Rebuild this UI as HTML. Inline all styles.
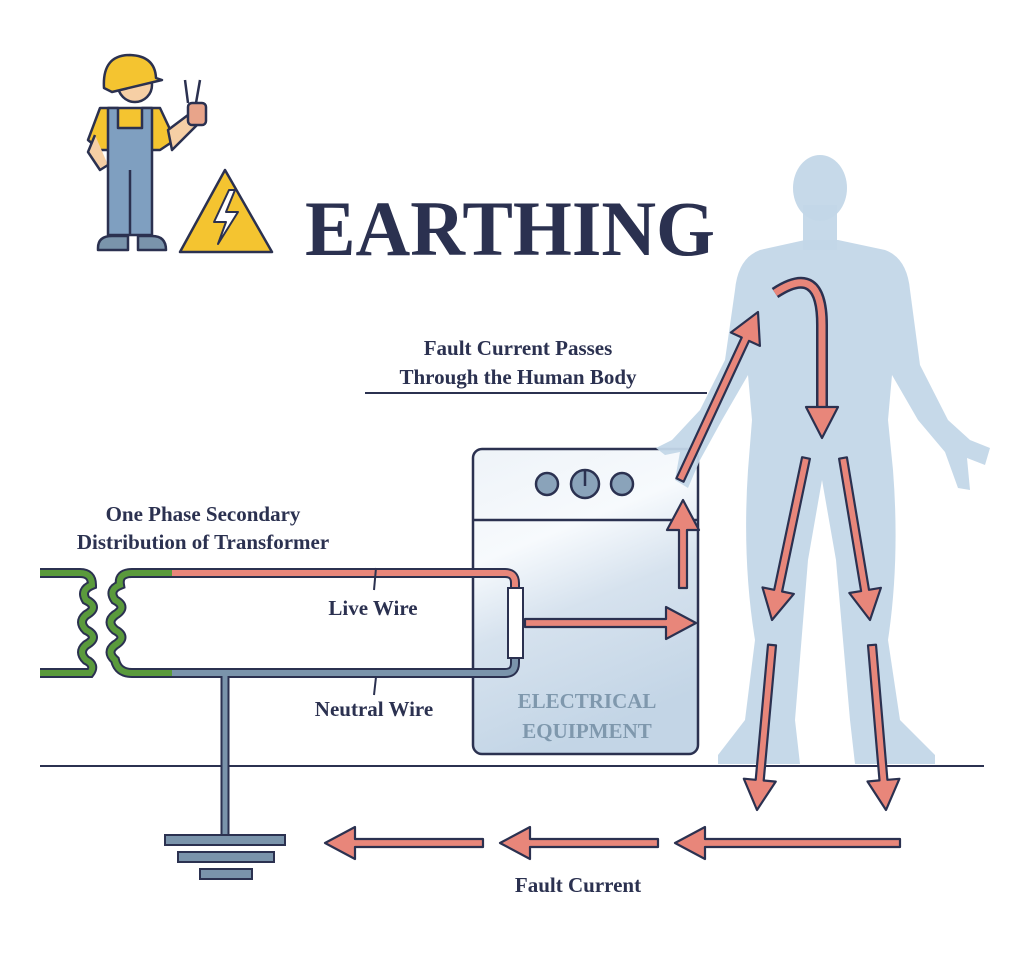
<!DOCTYPE html>
<html><head><meta charset="utf-8"><style>
html,body{margin:0;padding:0;background:#fff}
svg{display:block}
text{font-family:"Liberation Serif",serif;font-weight:bold;fill:#2b3150}
</style></head><body>
<svg id="s" width="1024" height="956" viewBox="0 0 1024 956" xmlns="http://www.w3.org/2000/svg">
<defs>
<linearGradient id="eq" x1="0" y1="0" x2="0.3" y2="1">
<stop offset="0" stop-color="#eef3f8"/><stop offset="0.35" stop-color="#f7fafd"/><stop offset="0.6" stop-color="#d6e2ee"/><stop offset="1" stop-color="#c3d5e6"/>
</linearGradient>
</defs>
<!-- equipment -->
<rect x="473" y="449" width="225" height="305" rx="9" fill="url(#eq)" stroke="#2b3150" stroke-width="2.5"/>
<line x1="474" y1="520" x2="697" y2="520" stroke="#2b3150" stroke-width="2.5"/>
<g fill="#8aa3ba" stroke="#2b3150" stroke-width="2.5">
<circle cx="547" cy="484" r="11"/><circle cx="585" cy="484" r="14"/><circle cx="622" cy="484" r="11"/>
</g>
<line x1="585" y1="470" x2="585" y2="486" stroke="#2b3150" stroke-width="2.5"/>
<text x="587" y="708" text-anchor="middle" font-size="21" style="fill:#7f98ad">ELECTRICAL</text>
<text x="587" y="738" text-anchor="middle" font-size="21" style="fill:#7f98ad">EQUIPMENT</text>
<!-- human silhouette -->
<g fill="#c3d7e8" fill-opacity="0.95">
<ellipse cx="820" cy="188" rx="27" ry="33"/>
<rect x="803" y="205" width="34" height="45"/>
<path d="M805,240 L760,250 Q738,258 735,290 L725,360 L700,410 L672,440 L656,448 L665,455 L680,452 L675,480 L688,488 L700,460 L722,420 L748,375 L752,420 L748,470 Q742,560 755,640 L745,720 L718,755 L718,764 L800,764 L795,720 L808,560 L822,480 L836,560 L850,720 L855,764 L935,764 L935,755 L900,720 L888,640 Q900,560 893,470 L888,420 L892,375 L918,420 L945,452 L958,488 L970,490 L967,458 L985,465 L990,448 L970,440 L948,420 L920,365 L910,290 Q907,258 885,250 L838,240 Z"/>
</g>
<!-- horizon -->
<line x1="40" y1="766" x2="984" y2="766" stroke="#2b3150" stroke-width="2"/>
<!-- wires -->
<path d="M172,573 L505,573 Q515,573 515,583 L515,595" fill="none" stroke="#2b3150" stroke-width="10"/>
<path d="M172,573 L505,573 Q515,573 515,583 L515,595" fill="none" stroke="#e8867a" stroke-width="6"/>
<path d="M172,673 L505,673 Q515,673 515,663 L515,650" fill="none" stroke="#2b3150" stroke-width="10"/>
<path d="M172,673 L505,673 Q515,673 515,663 L515,650" fill="none" stroke="#7a94ab" stroke-width="6"/>
<rect x="508" y="588" width="15" height="70" fill="#fff" stroke="#2b3150" stroke-width="2"/>
<line x1="225" y1="676" x2="225" y2="836" stroke="#2b3150" stroke-width="9"/>
<line x1="225" y1="676" x2="225" y2="836" stroke="#7a94ab" stroke-width="5"/>
<g fill="#7a94ab" stroke="#2b3150" stroke-width="2">
<rect x="165" y="835" width="120" height="10"/><rect x="178" y="852" width="96" height="10"/><rect x="200" y="869" width="52" height="10"/>
</g>
<!-- coils -->
<g fill="none" stroke-linejoin="round">
<path id="c1" d="M40,573 L80,573 Q92,573 92,585 Q80,590 86,600 Q100,607 86,615 Q78,622 86,630 Q100,637 86,645 Q78,652 86,660 Q96,665 90,673 L40,673"/>
<path id="c2" d="M172,573 L132,573 Q118,573 120,585 Q108,590 115,600 Q128,607 115,615 Q106,622 115,630 Q128,637 115,645 Q106,652 115,660 Q118,673 132,673 L172,673"/>
</g>
<use href="#c1" stroke="#2b3150" stroke-width="10" fill="none"/><use href="#c1" stroke="#5a9a3c" stroke-width="6" fill="none"/>
<use href="#c2" stroke="#2b3150" stroke-width="10" fill="none"/><use href="#c2" stroke="#5a9a3c" stroke-width="6" fill="none"/>
<line x1="376" y1="568" x2="374" y2="590" stroke="#2b3150" stroke-width="2"/>
<line x1="376" y1="677" x2="374" y2="695" stroke="#2b3150" stroke-width="2"/>
<!-- labels -->
<text x="203" y="521" text-anchor="middle" font-size="21">One Phase Secondary</text>
<text x="203" y="549" text-anchor="middle" font-size="21">Distribution of Transformer</text>
<text x="373" y="615" text-anchor="middle" font-size="21">Live Wire</text>
<text x="374" y="716" text-anchor="middle" font-size="21">Neutral Wire</text>
<text x="578" y="892" text-anchor="middle" font-size="21">Fault Current</text>
<text x="518" y="355" text-anchor="middle" font-size="21">Fault Current Passes</text>
<text x="518" y="384" text-anchor="middle" font-size="21">Through the Human Body</text>
<line x1="365" y1="393" x2="707" y2="393" stroke="#2b3150" stroke-width="2"/>
<text x="305" y="255" font-size="78" textLength="410" lengthAdjust="spacingAndGlyphs">EARTHING</text>
<!-- curved arrow -->
<path d="M775,293 Q822,262 822,325 L822,408" fill="none" stroke="#2b3150" stroke-width="12"/>
<path d="M775,293 Q822,262 822,325 L822,410" fill="none" stroke="#e8867a" stroke-width="7"/>
<polygon points="806,407 838,407 822,438" fill="#e8867a" stroke="#2b3150" stroke-width="2.2" stroke-linejoin="round"/>
<g id="arrows"></g>
<!-- warning triangle -->
<path d="M225,170 L272,252 L180,252 Z" fill="#f4c430" stroke="#2b3150" stroke-width="2.5" stroke-linejoin="round"/>
<path d="M229,190 L214,222 L226,222 L218,244 L238,212 L226,212 L235,190 Z" fill="#fff" stroke="#2b3150" stroke-width="2" stroke-linejoin="round"/>
<!-- worker -->
<g stroke="#2b3150" stroke-width="2.5" stroke-linejoin="round">
<path d="M100,108 L160,108 L175,140 L160,150 L100,150 L88,140 Z" fill="#f4c430"/>
<path d="M168,130 L192,112 L198,124 L172,150 Z" fill="#f6cfa5"/>
<path d="M95,135 L88,152 L100,170 L108,165" fill="#f6cfa5"/>
<path d="M108,108 L118,108 L118,128 L142,128 L142,108 L152,108 L152,235 L108,235 Z" fill="#7f9fc0"/>
<line x1="130" y1="170" x2="130" y2="235"/>
<path d="M98,248 Q98,236 112,236 L128,236 L128,250 L98,250 Z" fill="#7a94ab"/>
<path d="M138,236 L152,236 Q166,236 166,250 L138,250 Z" fill="#7a94ab"/>
<ellipse cx="135" cy="85" rx="17" ry="17" fill="#f6cfa5"/>
<path d="M104,88 Q102,55 130,55 Q155,56 156,78 L162,80 L112,92 Z" fill="#f4c430"/>
<rect x="188" y="103" width="18" height="22" rx="4" fill="#e8a48a"/>
<path d="M188,103 L185,80 M196,103 L200,80" fill="none"/>
</g>
<script>
var g=document.getElementById('arrows');
var A=[[680,480,758,312],[806,458,772,620],[843,458,870,620],[772,645,757,810],[872,645,886,810],[683,588,683,500],[525,623,696,623],[900,843,675,843],[658,843,500,843],[483,843,325,843]];
var NS='http://www.w3.org/2000/svg';
A.forEach(function(a){
 var dx=a[2]-a[0],dy=a[3]-a[1],L=Math.hypot(dx,dy),ux=dx/L,uy=dy/L,px=-uy,py=ux;
 var hl=30,hw=16,sw=4;
 var bx=a[2]-ux*hl,by=a[3]-uy*hl;
 var pts=[[a[0]+px*sw,a[1]+py*sw],[bx+px*sw,by+py*sw],[bx+px*hw,by+py*hw],[a[2],a[3]],[bx-px*hw,by-py*hw],[bx-px*sw,by-py*sw],[a[0]-px*sw,a[1]-py*sw]];
 var p=document.createElementNS(NS,'polygon');
 p.setAttribute('points',pts.map(function(q){return q[0].toFixed(1)+','+q[1].toFixed(1)}).join(' '));
 p.setAttribute('fill','#e8867a');p.setAttribute('stroke','#2b3150');p.setAttribute('stroke-width','2.2');p.setAttribute('stroke-linejoin','round');
 g.appendChild(p);
});
</script>
</svg>
</body></html>
